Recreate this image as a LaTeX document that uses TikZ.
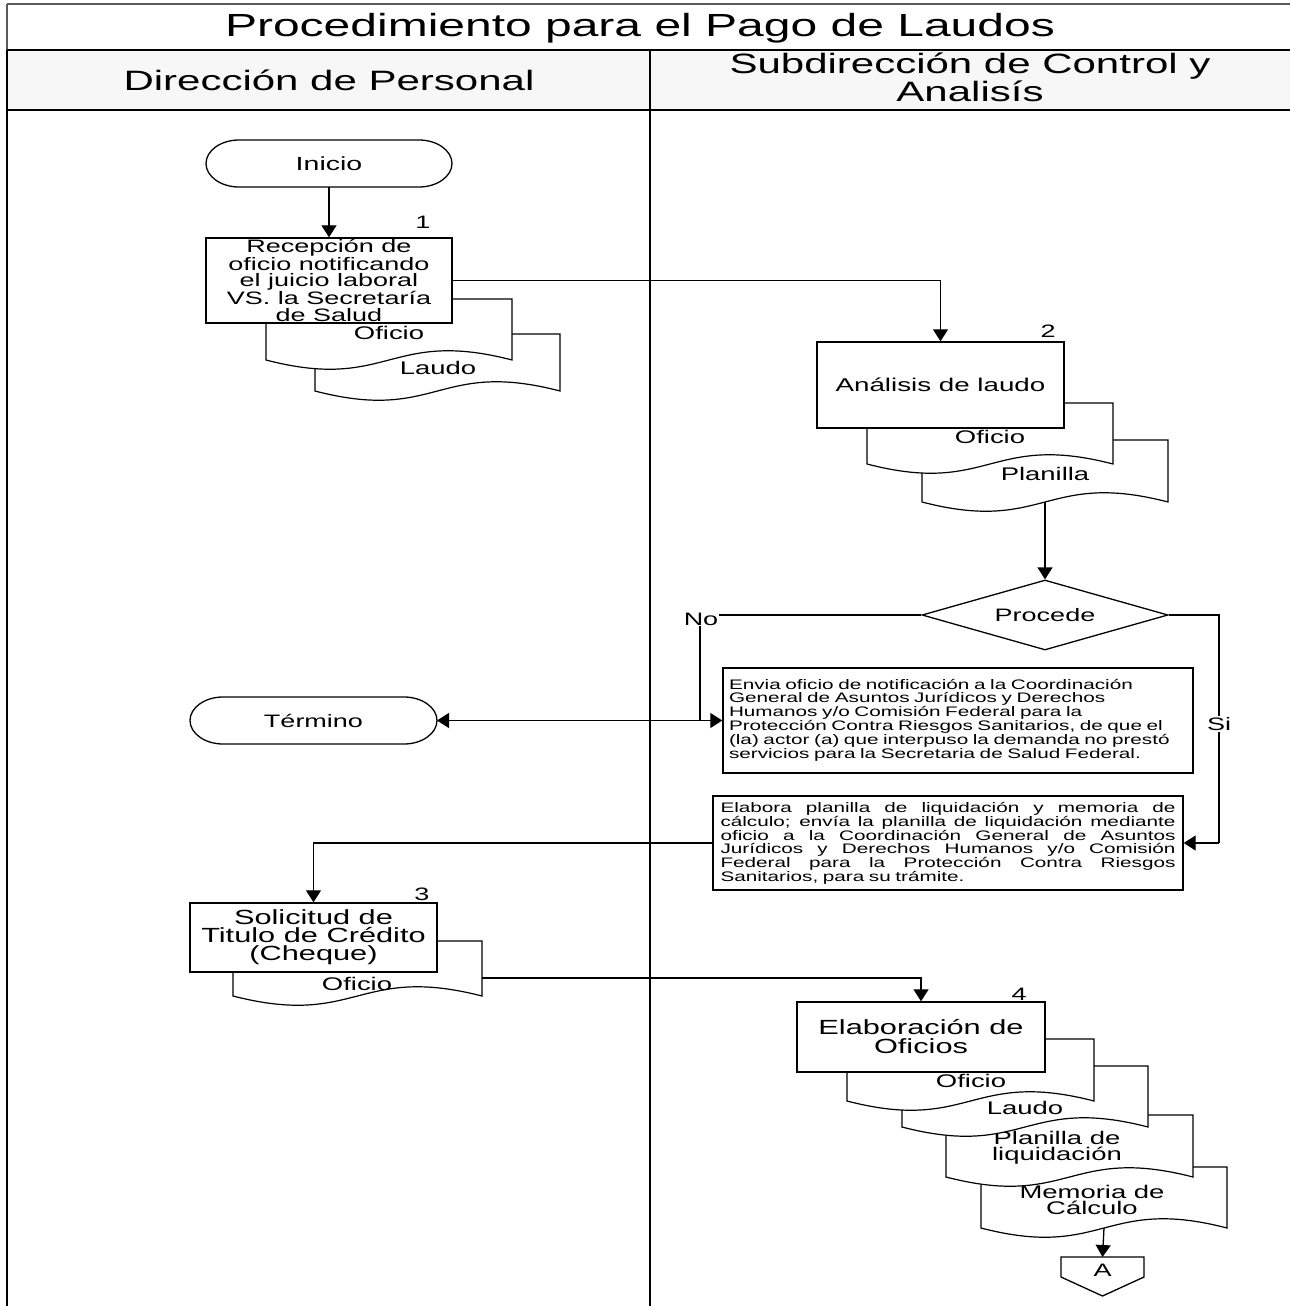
\documentclass[tikz,border=0pt]{standalone}
\usepackage{fontspec}
\setmainfont[FakeStretch=1.5]{Liberation Sans}
\usetikzlibrary{arrows.meta,calc,shapes.geometric}
\newcommand\fsz[2]{\fontsize{#1}{#2}\selectfont}
% one fully justified line of a given width
\newcommand\jline[2]{\leavevmode\hbox to #1{\spaceskip=\fontdimen2\font plus 1fil\relax #2}}

\tikzset{
  ln/.style={line width=1.3pt, black},
  arr/.style={ln, -{Triangle[width=15pt,length=12pt]}},
  procbox/.style={draw, line width=1.4pt, fill=white, inner sep=0pt, align=center},
  ghost/.style={inner sep=0pt, outer sep=0pt},
  shapeline/.style={draw=black, line width=1.3pt, fill=white},
  docline/.style={draw=black, line width=1.2pt, fill=white},
  doctext/.style={font=\fsz{18.3}{16}, align=center, inner sep=0pt},
  numlabel/.style={font=\fsz{18}{18}, inner sep=0pt},
  smalltext/.style={font=\fsz{13.8}{12.7}},
  frameline/.style={line width=1.7pt, black},
}

% terminal with elliptic ends drawn around a ghost node
\newcommand\stadium[1]{%
  \draw[shapeline] ([xshift=33pt]#1.north west) -- ([xshift=-33pt]#1.north east)
    .. controls ([xshift=-15pt]#1.north east) and ([yshift=13pt]#1.east) .. (#1.east)
    .. controls ([yshift=-13pt]#1.east) and ([xshift=-15pt]#1.south east) .. ([xshift=-33pt]#1.south east)
    -- ([xshift=33pt]#1.south west)
    .. controls ([xshift=15pt]#1.south west) and ([yshift=-13pt]#1.west) .. (#1.west)
    .. controls ([yshift=13pt]#1.west) and ([xshift=15pt]#1.north west) .. ([xshift=33pt]#1.north west)
    -- cycle;}

% document symbol: name, left, top, right, bottom, text position, text
\newcommand\docshape[7]{%
  \pgfmathsetmacro\dw{#4-#2}\pgfmathsetmacro\dh{#5-#3}%
  \pgfmathsetmacro\dcx{(#2+#4)/2}\pgfmathsetmacro\dcy{(#3+#5)/2}%
  \node[ghost, minimum width=\dw pt, minimum height=\dh pt] (#1) at (\dcx,\dcy) {};
  \draw[docline] (#1.north west) -- (#1.north east) -- (#1.south east)
    .. controls ([yshift=32pt]#1.south) and ([yshift=-32pt]#1.south) .. (#1.south west) -- cycle;
  \node[doctext] (#1txt) at (#6) {#7};}

\begin{document}
\begin{tikzpicture}[x=1pt,y=-1pt]
\useasboundingbox (0,0) rectangle (1290,1306);
\fill[white] (0,0) rectangle (1290,1306);

% ---- swimlane frame ----
\fill[black!3] (7,50) rectangle (1290,110);
\draw[frameline, black!65] (7,4) -- (1290,4);
\draw[frameline, black!65] (7,4) -- (7,50);
\draw[frameline] (7,50) -- (7,1306);
\draw[frameline] (7,50) -- (1290,50);
\draw[frameline] (7,110) -- (1290,110);
\draw[frameline] (650,50) -- (650,1306);

\node[font=\fsz{32}{32}, anchor=base, inner sep=0pt] (title) at (640,37) {Procedimiento para el Pago de Laudos};
\node[font=\fsz{28}{24}, anchor=base, inner sep=0pt] (laneA) at (329,90) {Dirección de Personal};
\node[font=\fsz{28}{24}, anchor=base, inner sep=0pt, align=center] (laneB) at (970,101) {Subdirección de Control y\\Analisís};

% ---- left lane: start ----
\node[ghost, minimum width=246pt, minimum height=47pt] (inicio) at (329,163.5) {};
\stadium{inicio}
\node[font=\fsz{19}{19}, inner sep=0pt] (inicioTxt) at (inicio) {Inicio};

% step 1 with its documents
\docshape{dLau1}{315}{334}{560}{391}{438,368}{Laudo}
\docshape{dOfi1}{266}{299}{512}{360}{389,333}{Oficio}
\node[procbox, font=\fsz{18}{16.5}, minimum width=246pt, minimum height=85pt] (b1) at (329,280.5)
  {Recepción de\\oficio notificando\\el juicio laboral\\VS. la Secretaría\\de Salud};
\node[numlabel] (n1) at (423,222) {1};

% step 2 with its documents
\docshape{dPla2}{922}{440}{1168}{502}{1045,474}{Planilla}
\docshape{dOfi2}{867}{403}{1113}{464}{990,437}{Oficio}
\node[procbox, font=\fsz{18.5}{18}, minimum width=247pt, minimum height=86pt] (b2) at (940.5,385) {Análisis de laudo};
\node[numlabel] (n2) at (1048,331) {2};

% decision
\node[draw, diamond, shape aspect=3.5, minimum width=246pt, minimum height=70pt, inner sep=0pt,
      line width=1.3pt, fill=white, font=\fsz{18}{18}] (dia) at (1045,615) {Procede};

% negative branch
\node[procbox, smalltext, text width=458pt, align=left, inner xsep=6pt, minimum height=105pt] (envia) at (958,720.5)
  {Envia oficio de notificación a la Coordinación\\
   General de Asuntos Jurídicos y Derechos\\
   Humanos y/o Comisión Federal para la\\
   Protección Contra Riesgos Sanitarios, de que el\\
   (la) actor (a) que interpuso la demanda no prestó\\
   servicios para la Secretaria de Salud Federal.};
\node[ghost, minimum width=247pt, minimum height=47pt] (termino) at (313.5,720.5) {};
\stadium{termino}
\node[font=\fsz{18}{18}, inner sep=0pt] (terminoTxt) at (termino) {Término};

% positive branch
\node[procbox, smalltext, text width=455pt, align=left, inner xsep=7.5pt, minimum height=94pt] (elab) at (948,843)
  {\jline{455pt}{Elabora planilla de liquidación y memoria de}\\
   \jline{455pt}{cálculo; envía la planilla de liquidación mediante}\\
   \jline{455pt}{oficio a la Coordinación General de Asuntos}\\
   \jline{455pt}{Jurídicos y Derechos Humanos y/o Comisión}\\
   \jline{455pt}{Federal para la Protección Contra Riesgos}\\
   Sanitarios, para su trámite.};

% step 3
\docshape{dOfi3}{233}{941}{482}{996}{357,984}{Oficio}
\node[procbox, font=\fsz{20.5}{18}, minimum width=247pt, minimum height=69pt] (sol) at (313.5,937.5)
  {Solicitud de\\Titulo de Crédito\\(Cheque)};
\node[numlabel] (n3) at (422,894) {3};

% step 4 with its documents
\docshape{dMem4}{981}{1167}{1227}{1228}{1092,1200}{Memoria de\\Cálculo}
\docshape{dPla4}{946}{1115}{1193}{1177}{1057,1148}{Planilla de\\liquidación}
\docshape{dLau4}{902}{1066}{1148}{1127}{1025,1108}{Laudo}
\docshape{dOfi4}{847}{1039}{1094}{1101}{971,1081}{Oficio}
\node[procbox, font=\fsz{20.5}{19}, minimum width=248pt, minimum height=70pt] (b4) at (921,1037)
  {Elaboración de\\Oficios};
\node[numlabel] (n4) at (1019,994) {4};

% off-page connector
\node[ghost, minimum width=83pt, minimum height=26pt] (conA) at (1102.5,1270) {};
\draw[shapeline] (conA.north west) -- (conA.north east) -- ([yshift=6pt]conA.south east)
  -- ([yshift=-13pt]conA.south) -- ([yshift=6pt]conA.south west) -- cycle;
\node[font=\fsz{18}{18}, inner sep=0pt] (conAtxt) at (conA) {A};

% ---- connectors ----
\coordinate (nob) at (700,720.5);
\coordinate (sib) at (1219,843);
\draw[arr] (inicio.south) -- (b1.north);
\draw[arr] (b1.east) -| (b2.north);
\draw[arr] (dPla2.south) -- (dia.north);
\draw[ln] (dia.west) -| (nob);
\draw[arr] (nob) -- (envia.west);
\draw[arr] (envia.west) -- (termino.east);
\draw[ln] (dia.east) -| (sib);
\draw[arr] (sib) -- (elab.east);
\draw[arr] (elab.west) -| (sol.north);
\draw[arr] ([yshift=-9.5pt]dOfi3.east) -| (b4.north);
\draw[arr] (dMem4.south) -- (conA.north);

\node[font=\fsz{18}{18}, fill=white, inner sep=1pt] (noLbl) at (701,619) {No};
\node[font=\fsz{18}{18}, fill=white, inner sep=1.5pt] (siLbl) at (1219,724) {Si};
\end{tikzpicture}
\end{document}
